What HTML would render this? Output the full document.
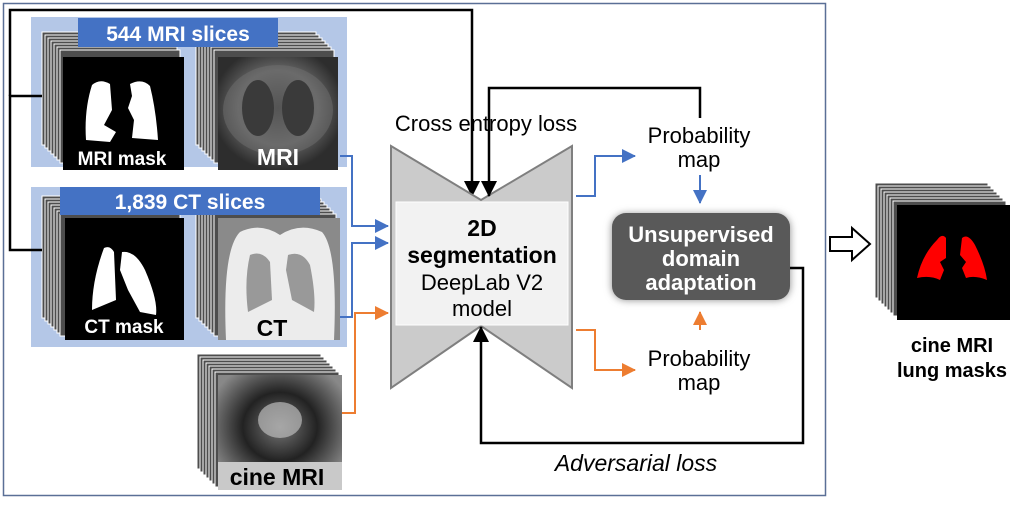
<!DOCTYPE html>
<html><head><meta charset="utf-8"><style>
html,body{margin:0;padding:0;background:#fff;width:1033px;height:510px;overflow:hidden}
svg text{font-family:"Liberation Sans",sans-serif}
</style></head><body>
<svg width="1033" height="510" viewBox="0 0 1033 510" xmlns="http://www.w3.org/2000/svg">
<defs>
<marker id="abl" markerWidth="14" markerHeight="14" refX="13" refY="7" orient="auto" markerUnits="userSpaceOnUse"><path d="M0,0 L14,7 L0,14z" fill="#4472c4"/></marker>
<marker id="aor" markerWidth="14" markerHeight="14" refX="13" refY="7" orient="auto" markerUnits="userSpaceOnUse"><path d="M0,0 L14,7 L0,14z" fill="#ed7d31"/></marker>
<marker id="abk" markerWidth="16" markerHeight="16" refX="15" refY="8" orient="auto" markerUnits="userSpaceOnUse"><path d="M0,0 L16,8 L0,16z" fill="#000"/></marker>
<filter id="sh" x="-20%" y="-20%" width="140%" height="140%"><feGaussianBlur stdDeviation="4"/></filter>
<radialGradient id="mri" cx="50%" cy="45%" r="55%"><stop offset="0" stop-color="#3a3a3a"/><stop offset="0.6" stop-color="#666"/><stop offset="1" stop-color="#2d2d2d"/></radialGradient>
<radialGradient id="cine" cx="50%" cy="45%" r="60%"><stop offset="0" stop-color="#777"/><stop offset="0.5" stop-color="#222"/><stop offset="1" stop-color="#888"/></radialGradient>
</defs>

<rect x="3.5" y="3.5" width="822" height="492" fill="none" stroke="#5a6f96" stroke-width="1.5"/>

<rect x="31" y="17" width="316" height="150" fill="#b4c7e7"/>
<rect x="31" y="187" width="316" height="160" fill="#b4c7e7"/>

<g fill="#4d4d4d" stroke="#fff" stroke-width="1">
<rect x="42" y="32" width="120" height="113"/><rect x="45" y="35" width="120" height="113"/><rect x="48" y="38" width="120" height="113"/><rect x="51" y="41" width="120" height="113"/><rect x="54" y="44" width="120" height="113"/><rect x="57" y="47" width="120" height="113"/><rect x="60" y="50" width="120" height="113"/>
<rect x="196" y="32" width="120" height="113"/><rect x="199" y="35" width="120" height="113"/><rect x="202" y="38" width="120" height="113"/><rect x="205" y="41" width="120" height="113"/><rect x="208" y="44" width="120" height="113"/><rect x="211" y="47" width="120" height="113"/><rect x="214" y="50" width="120" height="113"/>
<rect x="42" y="196" width="120" height="122"/><rect x="45" y="199" width="120" height="122"/><rect x="48" y="202" width="120" height="122"/><rect x="51" y="205" width="120" height="122"/><rect x="54" y="208" width="120" height="122"/><rect x="57" y="211" width="120" height="122"/><rect x="60" y="214" width="120" height="122"/>
<rect x="196" y="196" width="122" height="122"/><rect x="199" y="199" width="122" height="122"/><rect x="202" y="202" width="122" height="122"/><rect x="205" y="205" width="122" height="122"/><rect x="208" y="208" width="122" height="122"/><rect x="211" y="211" width="122" height="122"/><rect x="214" y="214" width="122" height="122"/>
<rect x="197" y="354" width="124" height="115"/><rect x="200" y="357" width="124" height="115"/><rect x="203" y="360" width="124" height="115"/><rect x="206" y="363" width="124" height="115"/><rect x="209" y="366" width="124" height="115"/><rect x="212" y="369" width="124" height="115"/><rect x="215" y="372" width="124" height="115"/>
<rect x="875" y="183" width="113" height="115"/><rect x="878" y="186" width="113" height="115"/><rect x="881" y="189" width="113" height="115"/><rect x="884" y="192" width="113" height="115"/><rect x="887" y="195" width="113" height="115"/><rect x="890" y="198" width="113" height="115"/><rect x="893" y="201" width="113" height="115"/>
</g>

<rect x="78" y="18" width="200" height="29" fill="#4472c4"/>
<text x="178" y="41" font-size="21" font-weight="bold" fill="#fff" text-anchor="middle">544 MRI slices</text>
<rect x="60" y="187" width="260" height="28" fill="#4472c4"/>
<text x="190" y="209" font-size="21" font-weight="bold" fill="#fff" text-anchor="middle">1,839 CT slices</text>

<rect x="63" y="57" width="121" height="113" fill="#000"/>
<path d="M92,85 Q100,78 110,84 L112,110 L104,125 L116,132 L110,142 L86,140 Q84,110 92,85z" fill="#fff"/>
<path d="M130,84 Q142,78 150,86 Q156,110 158,140 L132,138 L134,120 L128,108 L132,96z" fill="#fff"/>
<text x="122" y="165" font-size="19" font-weight="bold" fill="#fff" text-anchor="middle">MRI mask</text>
<rect x="218" y="57" width="120" height="113" fill="url(#mri)"/>
<ellipse cx="278" cy="110" rx="55" ry="45" fill="#707070" opacity="0.5"/>
<ellipse cx="258" cy="108" rx="16" ry="28" fill="#3a3a3a"/><ellipse cx="298" cy="108" rx="16" ry="28" fill="#3a3a3a"/>
<text x="278" y="165" font-size="23" font-weight="bold" fill="#fff" text-anchor="middle">MRI</text>

<rect x="65" y="218" width="119" height="122" fill="#000"/>
<path d="M104,248 Q110,245 114,252 L116,300 L92,310 Q92,280 104,248z" fill="#fff"/>
<path d="M122,252 Q135,250 145,270 Q158,300 156,315 L140,312 L128,290 L120,270z" fill="#fff"/>
<text x="124" y="333" font-size="19" font-weight="bold" fill="#fff" text-anchor="middle">CT mask</text>
<rect x="218" y="218" width="122" height="122" fill="#8a8a8a"/>
<path d="M226,340 Q222,250 240,232 Q260,222 280,235 Q300,222 322,232 Q338,250 334,340z" fill="#ececec"/>
<path d="M250,255 Q262,250 270,262 L272,300 L248,312 Q244,280 250,255z" fill="#999"/>
<path d="M288,255 Q302,250 310,265 Q316,295 314,312 L292,300 L286,270z" fill="#999"/>
<text x="272" y="336" font-size="23" font-weight="bold" fill="#000" text-anchor="middle">CT</text>

<rect x="218" y="375" width="124" height="115" fill="url(#cine)"/>
<ellipse cx="280" cy="420" rx="22" ry="18" fill="#bbb" opacity="0.7"/>
<rect x="218" y="462" width="124" height="28" fill="#c9c9c9"/>
<text x="277" y="485" font-size="23" font-weight="bold" fill="#000" text-anchor="middle">cine MRI</text>

<rect x="897" y="205" width="113" height="115" fill="#000"/>
<path d="M937,240 Q942,233 946,238 L946,258 L940,262 L944,270 L940,280 Q930,275 917,278 Q922,255 937,240z" fill="#f00"/>
<path d="M962,238 Q968,233 975,245 Q985,265 987,280 Q975,275 966,278 L962,268 L966,262 L960,255z" fill="#f00"/>
<text x="952" y="352" font-size="20" font-weight="bold" fill="#000" text-anchor="middle">cine MRI</text>
<text x="952" y="377" font-size="20" font-weight="bold" fill="#000" text-anchor="middle">lung masks</text>

<path d="M830,237 L852,237 L852,228 L870,244 L852,260 L852,251 L830,251z" fill="#fff" stroke="#000" stroke-width="2"/>

<path d="M42,96 L10,96 L10,250 L42,250" fill="none" stroke="#000" stroke-width="2.5"/>
<path d="M10,96 L10,10 L472,10 L472,196" fill="none" stroke="#000" stroke-width="2.5" marker-end="url(#abk)"/>

<path d="M391,146 L481,200 L572,146 L572,388 L481,326 L391,388z" fill="#cbcbcb" stroke="#7f7f7f" stroke-width="2"/>
<rect x="396" y="202" width="172" height="123" fill="#f2f2f2" stroke="#fff" stroke-width="1"/>
<text x="482" y="236" font-size="23" font-weight="bold" text-anchor="middle">2D</text>
<text x="482" y="263" font-size="23" font-weight="bold" text-anchor="middle">segmentation</text>
<text x="482" y="290" font-size="22" text-anchor="middle">DeepLab V2</text>
<text x="482" y="316" font-size="22" text-anchor="middle">model</text>

<text x="486" y="131" font-size="22" text-anchor="middle">Cross entropy loss</text>
<path d="M700,118 L700,88 L489,88 L489,196" fill="none" stroke="#000" stroke-width="2.5" marker-end="url(#abk)"/>

<path d="M340,156 L352,156 L352,226 L388,226" fill="none" stroke="#4472c4" stroke-width="2" marker-end="url(#abl)"/>
<path d="M340,317 L352,317 L352,243 L388,243" fill="none" stroke="#4472c4" stroke-width="2" marker-end="url(#abl)"/>
<path d="M342,413 L355,413 L355,313 L388,313" fill="none" stroke="#ed7d31" stroke-width="2" marker-end="url(#aor)"/>

<path d="M576,196 L595,196 L595,156 L635,156" fill="none" stroke="#4472c4" stroke-width="2" marker-end="url(#abl)"/>
<path d="M576,330 L595,330 L595,370 L635,370" fill="none" stroke="#ed7d31" stroke-width="2" marker-end="url(#aor)"/>
<text x="699" y="143" font-size="22" text-anchor="middle">Probability</text>
<text x="699" y="167" font-size="22" text-anchor="middle">map</text>
<text x="699" y="366" font-size="22" text-anchor="middle">Probability</text>
<text x="699" y="390" font-size="22" text-anchor="middle">map</text>
<path d="M700,175 L700,203" stroke="#4472c4" stroke-width="2" marker-end="url(#abl)"/>
<path d="M700,330 L700,312" stroke="#ed7d31" stroke-width="2" marker-end="url(#aor)"/>

<rect x="612" y="214" width="178" height="86" rx="14" fill="#888" filter="url(#sh)"/>
<rect x="612" y="213" width="178" height="87" rx="14" fill="#595959"/>
<text x="701" y="242" font-size="22" font-weight="bold" fill="#fff" text-anchor="middle">Unsupervised</text>
<text x="701" y="266" font-size="22" font-weight="bold" fill="#fff" text-anchor="middle">domain</text>
<text x="701" y="290" font-size="22" font-weight="bold" fill="#fff" text-anchor="middle">adaptation</text>

<path d="M790,268 L803,268 L803,443 L481,443 L481,327" fill="none" stroke="#000" stroke-width="2.5" marker-end="url(#abk)"/>
<text x="636" y="471" font-size="23" font-style="italic" text-anchor="middle">Adversarial loss</text>
</svg>
</body></html>
